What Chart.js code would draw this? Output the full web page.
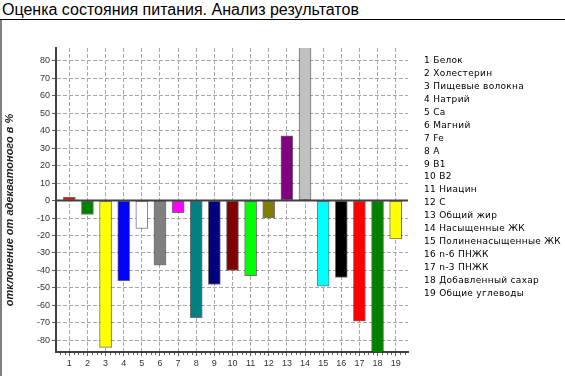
<!DOCTYPE html>
<html>
<head>
<meta charset="utf-8">
<script src="https://cdn.jsdelivr.net/npm/chart.js@4"></script>
<style>
  body { margin: 0; background: #fff; }
  #wrap { position: relative; width: 565px; height: 376px; overflow: hidden; }
  #title {
    position: absolute; left: 0; top: 0; width: 565px; height: 20px;
    border-bottom: 1px solid #000; box-sizing: border-box;
    font: 16px "Liberation Sans", Arial, sans-serif; line-height: 19px;
    padding-left: 2px; color: #000; white-space: nowrap;
  }
  #leftline { position: absolute; left: 0; top: 20px; width: 2px; height: 356px; background: #808080; }
  #c { position: absolute; left: 0; top: 0; }
</style>
</head>
<body>
<div id="wrap">
  <div id="title">Оценка состояния питания. Анализ результатов</div>
  <div id="leftline"></div>
  <canvas id="c" width="565" height="376"></canvas>
</div>
<script>
'use strict';

// categories (numbered 1..19) and their values, % deviation from adequate level
const categories = ['Белок', 'Холестерин', 'Пищевые волокна', 'Натрий', 'Ca', 'Магний', 'Fe', 'A', 'B1', 'B2',
  'Ниацин', 'C', 'Общий жир', 'Насыщенные ЖК', 'Полиненасыщенные ЖК', 'n-6 ПНЖК', 'n-3 ПНЖК',
  'Добавленный сахар', 'Общие углеводы'];
const values = [2, -8, -84, -46, -16, -37, -7, -67, -48, -40, -43, -10, 37, 100, -49, -44, -69, -100, -22];
const barColors = ['#ff0000', '#008000', '#ffff00', '#0000ff', '#ffffff', '#808080', '#ff00ff', '#008080',
  '#000080', '#800000', '#00ff00', '#808000', '#800080', '#c0c0c0', '#00ffff', '#000000', '#ff0000',
  '#008000', '#ffff00'];
const yTitle = 'отклонение от адекватоного в %';

let points = values.map(function(v, i){ return { x: i + 1, y: v }; });

// numbered list on the right + rotated y title + zero line + minor ticks
const extras = {
  id: 'extras',
  afterDatasetsDraw: function(chart){
    let ctx = chart.ctx;
    let xs = chart.scales.x, ys = chart.scales.y;
    let area = chart.chartArea;
    ctx.save();
    // zero line
    let y0 = ys.getPixelForValue(0);
    ctx.strokeStyle = '#404040';
    ctx.lineWidth = 2;
    ctx.beginPath();
    ctx.moveTo(area.left, y0);
    ctx.lineTo(area.right, y0);
    ctx.stroke();
    // minor ticks under x axis
    ctx.lineWidth = 1;
    ctx.strokeStyle = '#606060';
    for (let v = Math.ceil(xs.min * 4) / 4; v <= xs.max; v += 0.25) {
      if (Math.abs(v - Math.round(v)) < 0.01) continue;
      let px = Math.round(xs.getPixelForValue(v)) + 0.5;
      ctx.beginPath();
      ctx.moveTo(px, area.bottom + 1);
      ctx.lineTo(px, area.bottom + 3);
      ctx.stroke();
    }
    ctx.restore();
  },
  afterDraw: function(chart){
    let ctx = chart.ctx;
    ctx.save();
    // legend list
    ctx.fillStyle = '#000';
    ctx.font = '9px "DejaVu Sans"';
    ctx.letterSpacing = '0.3px';
    ctx.textBaseline = 'middle';
    categories.forEach(function(name, i){
      ctx.fillText((i + 1) + ' ' + name, 424, 61 + i * 12.9);
    });
    // y axis title
    ctx.letterSpacing = '0px';
    ctx.translate(10, 210);
    ctx.rotate(-Math.PI / 2);
    ctx.textAlign = 'center';
    ctx.font = 'bold italic 11px "Liberation Sans", Arial, sans-serif';
    ctx.fillStyle = '#222';
    ctx.fillText(yTitle, 0, 0);
    ctx.restore();
  }
};

new Chart(document.getElementById('c'), {
  type: 'bar',
  data: {
    datasets: [{
      data: points,
      backgroundColor: barColors,
      borderColor: 'rgba(0,0,0,0.55)',
      borderWidth: 1,
      borderSkipped: false,
      barThickness: 12
    }]
  },
  options: {
    responsive: false,
    animation: false,
    layout: { padding: { top: 48, right: 157, left: 0, bottom: 0 } },
    plugins: { legend: { display: false }, tooltip: { enabled: false } },
    scales: {
      x: {
        type: 'linear',
        offset: false,
        min: 0.266,
        max: 19.68,
        afterFit: function(scale){ scale.height = 24; },
        ticks: {
          stepSize: 1,
          includeBounds: false,
          color: '#333',
          padding: 2,
          font: { family: '"Liberation Sans", Arial', size: 9 }
        },
        grid: { offset: false, color: '#a8a8a8', tickColor: '#606060', tickLength: 4 },
        border: { color: '#404040', width: 2, dash: [4, 2] }
      },
      y: {
        min: -86.6,
        max: 87.2,
        afterFit: function(scale){ scale.width = 56; },
        afterBuildTicks: function(scale){
          let t = [];
          for (let v = -80; v <= 80; v += 10) t.push({ value: v });
          scale.ticks = t;
        },
        ticks: {
          color: '#333',
          padding: 2,
          font: { family: '"Liberation Sans", Arial', size: 9 }
        },
        grid: { color: '#a8a8a8', tickColor: '#606060', tickLength: 4 },
        border: { color: '#404040', width: 2, dash: [4, 2] }
      }
    }
  },
  plugins: [extras]
});
</script>
</body>
</html>
